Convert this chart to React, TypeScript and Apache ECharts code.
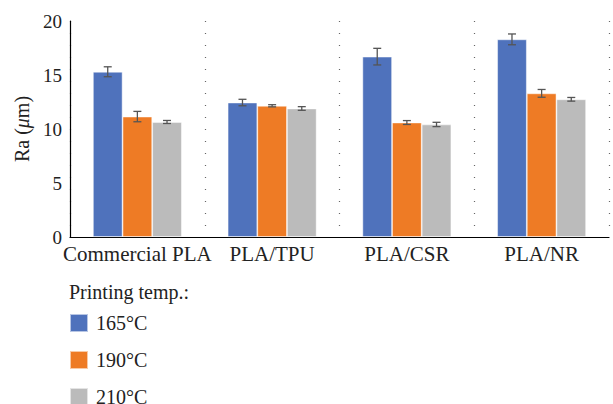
import React, { useEffect, useRef } from "react";
import * as echarts from "echarts";

const categories = ["Commercial PLA", "PLA/TPU", "PLA/CSR", "PLA/NR"];
const seriesNames = ["165°C", "190°C", "210°C"];
const values165 = [15.3, 12.45, 16.7, 18.3];
const values190 = [11.15, 12.15, 10.6, 13.3];
const values210 = [10.65, 11.9, 10.42, 12.75];
const err165 = [0.46, 0.3, 0.77, 0.5];
const err190 = [0.48, 0.1, 0.18, 0.36];
const err210 = [0.14, 0.17, 0.2, 0.17];
const colors = ["#4F72BC", "#EE7B25", "#BBBBBB"];

const FONT = "Liberation Serif";
const CAT_GAP = 0.34;

export default function App() {
  const ref = useRef<HTMLDivElement>(null);
  useEffect(() => {
    if (!ref.current) return;
    const chart = echarts.init(ref.current, null, { renderer: "svg" });
    const vals = [values165, values190, values210];
    const errs = [err165, err190, err210];
    const errData: any[] = [];
    vals.forEach((v, s) => {
      v.forEach((y, i) => {
        errData.push([i, y - errs[s][i], y + errs[s][i], s]);
      });
    });
    chart.setOption({
      animation: false,
      textStyle: { fontFamily: FONT },
      grid: { left: 70, right: 4, top: 21, bottom: 167, containLabel: false },
      xAxis: {
        type: "category",
        data: categories,
        axisLine: { lineStyle: { color: "#000", width: 1.2 } },
        axisTick: { show: false },
        axisLabel: { color: "#222", fontSize: 21, fontFamily: FONT, margin: 6, interval: 0 },
        splitLine: {
          show: true,
          interval: 0,
          lineStyle: { color: "#666", type: [1, 11], width: 1.2 },
        },
      },
      yAxis: {
        type: "value",
        min: 0,
        max: 20,
        interval: 5,
        name: "Ra ({it|μ}m)",
        nameLocation: "middle",
        nameGap: 32,
        nameTextStyle: {
          color: "#222",
          fontSize: 20,
          fontFamily: FONT,
          rich: { it: { fontStyle: "italic", fontSize: 20, fontFamily: FONT, color: "#222" } },
        },
        axisLine: { show: true, lineStyle: { color: "#000", width: 1.2 } },
        axisTick: { show: false },
        axisLabel: { color: "#222", fontSize: 19, fontFamily: FONT, margin: 8 },
        splitLine: { show: false },
      },
      legend: {
        orient: "vertical",
        left: 69,
        top: 313,
        height: 200,
        padding: 0,
        itemWidth: 18,
        itemHeight: 18,
        itemGap: 17,
        icon: "rect",
        data: seriesNames,
        textStyle: { color: "#222", fontSize: 20, lineHeight: 18, fontFamily: FONT, padding: [0, 0, 0, 3] },
      },
      graphic: [
        {
          type: "text",
          left: 69,
          top: 282,
          style: { text: "Printing temp.:", fontSize: 20, fontFamily: FONT, fill: "#222" },
        },
      ],
      series: [
        ...seriesNames.map((name, s) => ({
          name,
          type: "bar",
          data: vals[s],
          barGap: "0%",
          barCategoryGap: CAT_GAP * 100 + "%",
          itemStyle: { color: colors[s], borderColor: "rgba(255,255,255,0.6)", borderWidth: 0.8 },
        })),
        {
          type: "custom",
          name: "err",
          data: errData,
          encode: { x: 0, y: [1, 2] },
          z: 10,
          renderItem: (params: any, api: any) => {
            const cat = api.value(0);
            const lo = api.value(1);
            const hi = api.value(2);
            const s = api.value(3);
            const band = api.size([1, 0])[0];
            const bw = (band * (1 - CAT_GAP)) / 3;
            const off = (s - 1) * bw;
            const pLo = api.coord([cat, lo]);
            const pHi = api.coord([cat, hi]);
            const x = pLo[0] + off;
            const hw = 4;
            const style = { stroke: "#555", lineWidth: 1.3 };
            return {
              type: "group",
              children: [
                { type: "line", shape: { x1: x, y1: pLo[1], x2: x, y2: pHi[1] }, style },
                { type: "line", shape: { x1: x - hw, y1: pLo[1], x2: x + hw, y2: pLo[1] }, style },
                { type: "line", shape: { x1: x - hw, y1: pHi[1], x2: x + hw, y2: pHi[1] }, style },
              ],
            };
          },
        },
      ],
    });
    return () => chart.dispose();
  }, []);
  return <div ref={ref} style={{ width: 613, height: 404, position: "absolute", left: 0, top: 0, background: "#fff" }} />;
}
